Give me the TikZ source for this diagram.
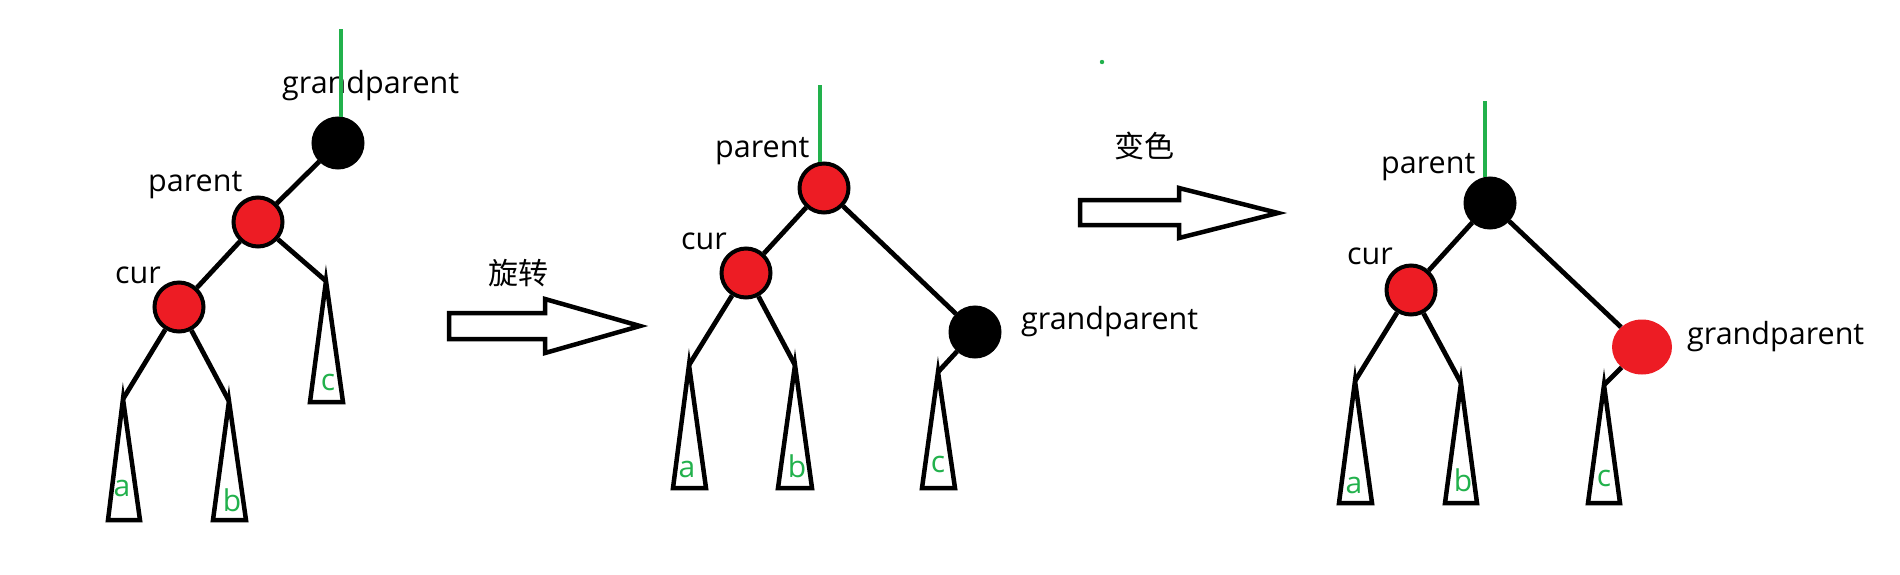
\documentclass[tikz,border=0pt]{standalone}
\usepackage{fontspec}
\setmainfont{Open Sans}
\newfontfamily\cjk{Noto Sans CJK SC}
\usetikzlibrary{shapes.geometric}
\definecolor{pred}{RGB}{237,28,36}
\definecolor{pgreen}{RGB}{34,177,76}
\tikzset{
  edge/.style={line width=4.8pt, draw=black},
  rednode/.style={circle, fill=pred, draw=black, line width=4pt, minimum size=49pt, inner sep=0pt},
  blknode/.style={circle, fill=black, draw=black, line width=4pt, minimum size=49pt, inner sep=0pt},
  redplain/.style={ellipse, fill=pred, minimum width=60pt, minimum height=55pt, inner sep=0pt},
  lbl/.style={font=\fontsize{30.5}{36}\selectfont, inner sep=0pt, anchor=base west},
  cnlbl/.style={font=\cjk\fontsize{30}{36}\selectfont, inner sep=0pt, anchor=center},
  sublbl/.style={font=\fontsize{30}{36}\selectfont, text=pgreen, inner sep=0pt, anchor=base},
  gline/.style={line width=3.2pt, draw=pgreen},
  tri/.style={line width=4.5pt, line join=miter, draw=black},
  bigarrow/.style={line width=4.5pt, line join=miter, draw=black},
}
\begin{document}
\begin{tikzpicture}[x=1pt,y=-1pt]
\useasboundingbox (0,0) rectangle (1900,574);
\fill[white] (0,0) rectangle (1900,574);

% ---------- Tree 1 ----------
\node[blknode] (g1) at (338,143) {};
\node[rednode] (p1) at (258,222) {};
\node[rednode] (c1) at (179,307) {};
\coordinate (ta1) at (123,399);
\coordinate (tb1) at (229,401);
\coordinate (tc1) at (326,281);
\draw[edge] (g1) -- (p1);
\draw[edge] (p1) -- (c1);
\draw[edge] (p1) -- (tc1);
\draw[edge] (c1) -- (ta1);
\draw[edge] (c1) -- (tb1);
\draw[tri] (ta1) -- ++(-15,121) -- ++(32,0) -- cycle;
\draw[tri] (tb1) -- ++(-16,119) -- ++(33,0) -- cycle;
\draw[tri] (tc1) -- ++(-16,121) -- ++(33,0) -- cycle;
\node[lbl] (lg1) at (282,93) {grandparent};
\node[lbl] (lp1) at (148,191) {parent};
\node[lbl] (lc1) at (115,283) {cur};
\node[sublbl] (sa1) at (122,496) {a};
\node[sublbl] (sb1) at (232,511) {b};
\node[sublbl] (sc1) at (328,390) {c};
\coordinate (gt1) at (341,29);
\draw[gline] (gt1) -- (gt1 |- g1.north);

% ---------- Arrow 1 ----------
\draw[bigarrow] (449,313) -- (545,313) -- (545,299) -- (640,326) -- (545,353) -- (545,339) -- (449,339) -- cycle;
\node[cnlbl] (rot) at (518,273) {旋转};

% ---------- Tree 2 ----------
\node[rednode] (p2) at (824,188) {};
\node[rednode] (c2) at (746,273) {};
\node[blknode] (g2) at (975,332) {};
\coordinate (ta2) at (689,365);
\coordinate (tb2) at (795,365);
\coordinate (tc2) at (938,372);
\draw[edge] (p2) -- (c2);
\draw[edge] (p2) -- (g2);
\draw[edge] (c2) -- (ta2);
\draw[edge] (c2) -- (tb2);
\draw[edge] (g2) -- (tc2);
\draw[tri] (ta2) -- ++(-16,123) -- ++(33,0) -- cycle;
\draw[tri] (tb2) -- ++(-17,123) -- ++(34,0) -- cycle;
\draw[tri] (tc2) -- ++(-16,116) -- ++(33,0) -- cycle;
\node[lbl] (lp2) at (715,157) {parent};
\node[lbl] (lc2) at (681,249) {cur};
\node[lbl] (lg2) at (1021,329) {grandparent};
\node[sublbl] (sa2) at (687,477) {a};
\node[sublbl] (sb2) at (797,477) {b};
\node[sublbl] (sc2) at (938,472) {c};
\coordinate (gt2) at (820,85);
\draw[gline] (gt2) -- (gt2 |- p2.north);

% ---------- Arrow 2 ----------
\draw[bigarrow] (1080,200) -- (1179,200) -- (1179,188) -- (1278,213) -- (1179,238) -- (1179,225) -- (1080,225) -- cycle;
\node[cnlbl] (col) at (1144,146) {变色};
\fill[pgreen] (1102,62) circle (2.2pt);

% ---------- Tree 3 ----------
\node[blknode] (p3) at (1490,203) {};
\node[rednode] (c3) at (1411,290) {};
\node[redplain] (g3) at (1642,347) {};
\coordinate (ta3) at (1355,381);
\coordinate (tb3) at (1461,383);
\coordinate (tc3) at (1604,385);
\draw[edge] (p3) -- (c3);
\draw[edge] (p3) -- (g3);
\draw[edge] (c3) -- (ta3);
\draw[edge] (c3) -- (tb3);
\draw[edge] (g3) -- (tc3);
\draw[tri] (ta3) -- ++(-16,122) -- ++(33,0) -- cycle;
\draw[tri] (tb3) -- ++(-16,120) -- ++(32,0) -- cycle;
\draw[tri] (tc3) -- ++(-16,118) -- ++(32,0) -- cycle;
\node[lbl] (lp3) at (1381,173) {parent};
\node[lbl] (lc3) at (1347,264) {cur};
\node[lbl] (lg3) at (1687,344) {grandparent};
\node[sublbl] (sa3) at (1354,493) {a};
\node[sublbl] (sb3) at (1463,491) {b};
\node[sublbl] (sc3) at (1604,486) {c};
\coordinate (gt3) at (1485,101);
\draw[gline] (gt3) -- (gt3 |- p3.north);
\end{tikzpicture}
\end{document}
